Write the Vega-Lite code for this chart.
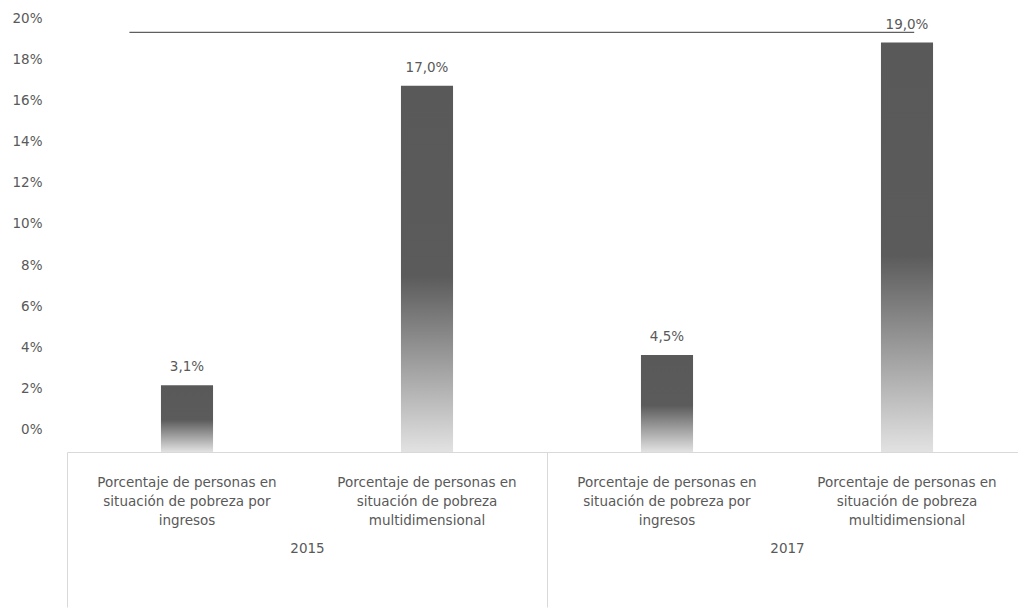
{
  "$schema": "https://vega.github.io/schema/vega-lite/v6.json",
  "autosize": {"type": "none"},
  "width": 960,
  "height": 434,
  "padding": {"left": 67, "top": 18, "right": 0, "bottom": 156},
  "background": "white",
  "config": {
    "locale": {"number": {"decimal": ",", "thousands": ".", "grouping": [3], "currency": ["", " €"]}},
    "view": {"stroke": null},
    "font": "DejaVu Sans"
  },
  "data": {"values": [
    {"cat": "Porcentaje de personas en|situación de pobreza por|ingresos|2015", "year": "2015", "value": 0.031},
    {"cat": "Porcentaje de personas en|situación de pobreza|multidimensional|2015", "year": "2015", "value": 0.17},
    {"cat": "Porcentaje de personas en|situación de pobreza por|ingresos|2017", "year": "2017", "value": 0.045},
    {"cat": "Porcentaje de personas en|situación de pobreza|multidimensional|2017", "year": "2017", "value": 0.19}
  ]},
  "layer": [
    {
      "layer": [
        {
          "mark": {
            "type": "bar",
            "color": {
              "gradient": "linear", "x1": 0, "y1": 0, "x2": 0, "y2": 1,
              "stops": [
                {"offset": 0, "color": "#595959"},
                {"offset": 0.52, "color": "#5b5b5b"},
                {"offset": 1, "color": "#e2e2e2"}
              ]
            }
          },
          "encoding": {
            "x": {
              "field": "cat", "type": "nominal", "sort": null,
              "scale": {"paddingInner": 0.783, "paddingOuter": 0.3915},
              "axis": {
                "orient": "bottom", "title": null, "labelAngle": 0, "ticks": false,
                "domain": true, "domainColor": "#d9d9d9", "labelPadding": 23,
                "labelExpr": "slice(split(datum.value, '|'), 0, 3)",
                "labelLineHeight": 19, "labelLimit": 300, "labelColor": "#595959",
                "labelFontSize": 13.5, "labelBaseline": "top", "grid": false
              }
            },
            "y": {
              "field": "value", "type": "quantitative",
              "scale": {"domain": [0, 0.2014], "nice": false, "zero": false},
              "axis": null
            }
          }
        },
        {
          "mark": {"type": "text", "baseline": "middle", "dy": -18, "fontSize": 13.5, "color": "#595959"},
          "encoding": {
            "x": {"field": "cat", "type": "nominal", "sort": null},
            "y": {"field": "value", "type": "quantitative"},
            "text": {"field": "value", "type": "quantitative", "format": ".1%"}
          }
        }
      ]
    },
    {
      "data": {"values": [{"from": "Porcentaje de personas en|situación de pobreza por|ingresos|2015", "to": "Porcentaje de personas en|situación de pobreza|multidimensional|2017", "level": 0.193}]},
      "mark": {"type": "rule", "color": "#5f5f5f", "strokeWidth": 1.2},
      "encoding": {
        "x": {
          "field": "from", "type": "nominal", "bandPosition": 0.26,
          "scale": {
            "domain": [
              "Porcentaje de personas en|situación de pobreza por|ingresos|2015",
              "Porcentaje de personas en|situación de pobreza|multidimensional|2015",
              "Porcentaje de personas en|situación de pobreza por|ingresos|2017",
              "Porcentaje de personas en|situación de pobreza|multidimensional|2017"
            ],
            "paddingInner": 0, "paddingOuter": 0
          },
          "axis": null
        },
        "x2": {"field": "to", "bandPosition": 0.53},
        "y": {
          "field": "level", "type": "quantitative",
          "scale": {"domain": [-0.0107, 0.2], "nice": false, "zero": false},
          "axis": {
            "orient": "left", "title": null, "ticks": false, "domain": false, "grid": false,
            "format": ".0%", "values": [0, 0.02, 0.04, 0.06, 0.08, 0.1, 0.12, 0.14, 0.16, 0.18, 0.2],
            "labelPadding": 25, "labelColor": "#595959", "labelFontSize": 13.5
          }
        }
      }
    },
    {
      "mark": {"type": "rect", "opacity": 0},
      "encoding": {
        "x": {
          "field": "year", "type": "nominal",
          "scale": {"paddingInner": 0, "paddingOuter": 0},
          "axis": {
            "orient": "bottom", "title": null, "labelAngle": 0, "domain": false, "grid": false,
            "ticks": true, "tickBand": "extent", "tickSize": 155, "tickColor": "#d9d9d9",
            "labelPadding": -66, "labelColor": "#595959", "labelFontSize": 13.5, "labelBaseline": "top"
          }
        }
      }
    }
  ],
  "resolve": {"scale": {"x": "independent", "y": "independent"}}
}
